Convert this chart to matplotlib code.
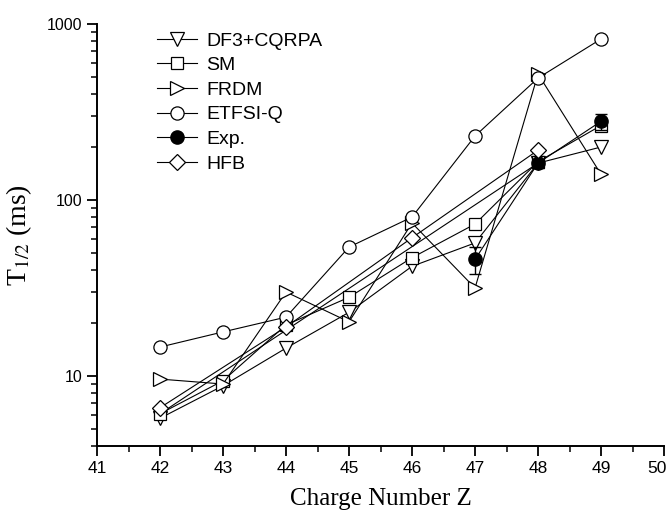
import matplotlib
matplotlib.use('Agg')
import matplotlib.pyplot as plt
import matplotlib.transforms as mtransforms
from matplotlib.ticker import FixedLocator, FixedFormatter, LogLocator, NullFormatter, MultipleLocator

# data (T1/2 in ms vs charge number Z)
z_all = [42, 43, 44, 45, 46, 47, 48, 49]
t_df3 = [5.75, 8.8, 14.4, 23, 42, 57, 162, 200]
t_sm = [6.1, 9.4, 19.5, 28, 47, 73, 165, 265]
t_frdm = [9.6, 9.0, 30, 20.3, 74, 31.6, 520, 140]
t_etfsi = [14.6, 17.8, 21.6, 54, 80, 231, 493, 822]

z_exp = [47, 48, 49]
t_exp = [46, 162, 280]
err_exp = [8, 10, 30]

z_hfb = [42, 44, 46, 48]
t_hfb = [6.6, 19, 61, 192]

# stray connecting line seen in the original (42 -> 48)
z_link = [42, 48]
t_link = [6.1, 162]

plt.rcParams['font.family'] = ['Liberation Sans', 'DejaVu Sans']
plt.rcParams['mathtext.fontset'] = 'stix'

fig = plt.figure(figsize=(6.71, 5.11), dpi=100)
ax = fig.add_axes([0.1446, 0.1272, 0.845, 0.8258])

lw = 0.8
ms = dict(markerfacecolor='white', markeredgecolor='black', markeredgewidth=0.9)

ax.plot(z_link, t_link, '-', color='black', lw=lw)
h1, = ax.plot(z_all, t_df3, '-v', color='black', lw=lw, markersize=10, label='DF3+CQRPA', **ms)
h2, = ax.plot(z_all, t_sm, '-s', color='black', lw=lw, markersize=8.5, label='SM', **ms)
h3, = ax.plot(z_all, t_frdm, '->', color='black', lw=lw, markersize=10, label='FRDM', **ms)
h4, = ax.plot(z_all, t_etfsi, '-o', color='black', lw=lw, markersize=9.5, label='ETFSI-Q', **ms)
ax.errorbar(z_exp, t_exp, yerr=err_exp, fmt='none', ecolor='black',
            elinewidth=1.0, capsize=4, capthick=1.0)
h5, = ax.plot(z_exp, t_exp, '-o', color='black', lw=lw, markersize=9.5, label='Exp.')
h6, = ax.plot(z_hfb, t_hfb, '-D', color='black', lw=lw, markersize=8.5, label='HFB', **ms)

ax.set_yscale('log')
ax.set_xlim(41, 50)
ax.set_ylim(4, 1000)

ax.xaxis.set_major_locator(FixedLocator(list(range(41, 51))))
ax.xaxis.set_minor_locator(MultipleLocator(0.5))
ax.yaxis.set_major_locator(FixedLocator([10, 100, 1000]))
ax.yaxis.set_major_formatter(FixedFormatter(['10', '100', '1000']))
ax.yaxis.set_minor_locator(LogLocator(base=10, subs=range(2, 10)))
ax.yaxis.set_minor_formatter(NullFormatter())

for s in ['top', 'right']:
    ax.spines[s].set_visible(False)
for s in ['left', 'bottom']:
    ax.spines[s].set_linewidth(1.4)

ax.tick_params(which='major', direction='out', length=7, width=1.3)
ax.tick_params(which='minor', direction='out', length=4, width=1.1)
ax.tick_params(axis='x', labelsize=12.5)
ax.tick_params(axis='y', labelsize=11.5)

# nudge the last x label ("50") left so it stays inside the figure
last = ax.get_xticklabels()[-1]
last.set_transform(last.get_transform() + mtransforms.ScaledTranslation(-7 / 100, 0, fig.dpi_scale_trans))

ax.set_xlabel('Charge Number Z', family='Liberation Serif', fontsize=18)
ax.set_ylabel(r'T$_{\mathrm{1/2}}$ (ms)', family='Liberation Serif', fontsize=20)
ax.xaxis.set_label_coords(0.5, -0.1)
ax.yaxis.set_label_coords(-0.112, 0.5)

ax.legend([h1, h2, h3, h4, h5, h6], ['DF3+CQRPA', 'SM', 'FRDM', 'ETFSI-Q', 'Exp.', 'HFB'],
          loc='upper left', bbox_to_anchor=(0.105, 0.981), frameon=False,
          fontsize=14, handlelength=2.1, handletextpad=0.45, labelspacing=0.36,
          borderpad=0, borderaxespad=0, numpoints=1)

fig.savefig('out.png', dpi=100)
